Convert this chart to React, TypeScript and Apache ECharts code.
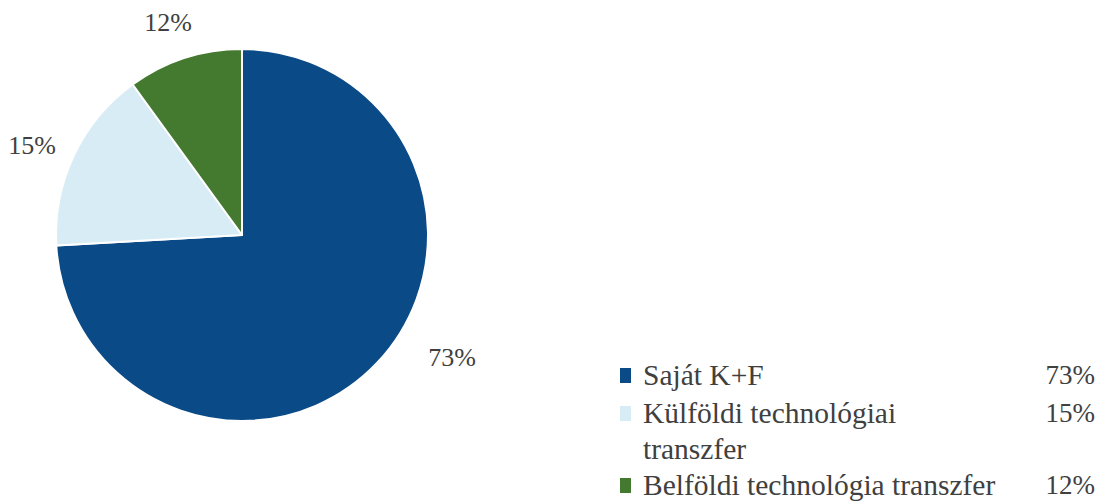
import React, { useEffect, useRef } from "react";
import * as echarts from "echarts";

// Data
const categories = ["Saját K+F", "Külföldi technológiai transzfer", "Belföldi technológia transzfer"];
const legendNames = ["Saját K+F", "Külföldi technológiai\ntranszfer", "Belföldi technológia transzfer"];
const sliceValues = [74.1, 15.9, 10.0]; // slice sizes as drawn
const shownPercents = ["73%", "15%", "12%"]; // printed labels
const colors = ["#0a4a87", "#d8ecf5", "#447a2f"];

// Layout (positions, not data)
const labelPos = [
  [452, 357],
  [32, 145],
  [168, 22],
];
const legendRowTop = [357, 395, 467];
const FONT = "'Liberation Serif', 'Times New Roman', serif";

export default function App() {
  const ref = useRef<HTMLDivElement>(null);
  useEffect(() => {
    const chart = echarts.init(ref.current!, null, { renderer: "svg" });
    const legendGraphics: any[] = [];
    categories.forEach((_, i) => {
      const top = legendRowTop[i];
      legendGraphics.push({
        type: "rect",
        shape: { x: 620, y: top + 11, width: 11, height: 15 },
        style: { fill: colors[i] },
      });
      legendGraphics.push({
        type: "text",
        x: 643,
        y: top,
        style: {
          text: legendNames[i],
          font: `29.5px ${FONT}`,
          fill: "#404040",
          lineHeight: 36,
          textVerticalAlign: "top",
          textAlign: "left",
        },
      });
      legendGraphics.push({
        type: "text",
        x: 1095,
        y: top,
        style: {
          text: shownPercents[i],
          font: `27px ${FONT}`,
          fill: "#404040",
          lineHeight: 36,
          textVerticalAlign: "top",
          textAlign: "right",
        },
      });
    });

    chart.setOption({
      animation: false,
      backgroundColor: "#ffffff",
      graphic: legendGraphics,
      series: [
        {
          type: "pie",
          center: [242, 235],
          radius: 186,
          startAngle: 90,
          clockwise: true,
          data: categories.map((name, i) => ({
            name,
            value: sliceValues[i],
            itemStyle: { color: colors[i] },
          })),
          itemStyle: { borderColor: "#ffffff", borderWidth: 2 },
          label: {
            show: true,
            position: "outside",
            formatter: (p: any) => shownPercents[p.dataIndex],
            fontFamily: FONT,
            fontSize: 26,
            color: "#404040",
            overflow: "none",
            edgeDistance: 0,
          },
          labelLine: { show: false },
          labelLayout: (p: any) => ({
            x: labelPos[p.dataIndex][0],
            y: labelPos[p.dataIndex][1],
            align: "center",
            verticalAlign: "middle",
          }),
          emphasis: { disabled: true },
        },
      ],
    });
    return () => chart.dispose();
  }, []);
  return (
    <div
      ref={ref}
      style={{ position: "fixed", left: 0, top: 0, width: 1100, height: 501 }}
    />
  );
}
